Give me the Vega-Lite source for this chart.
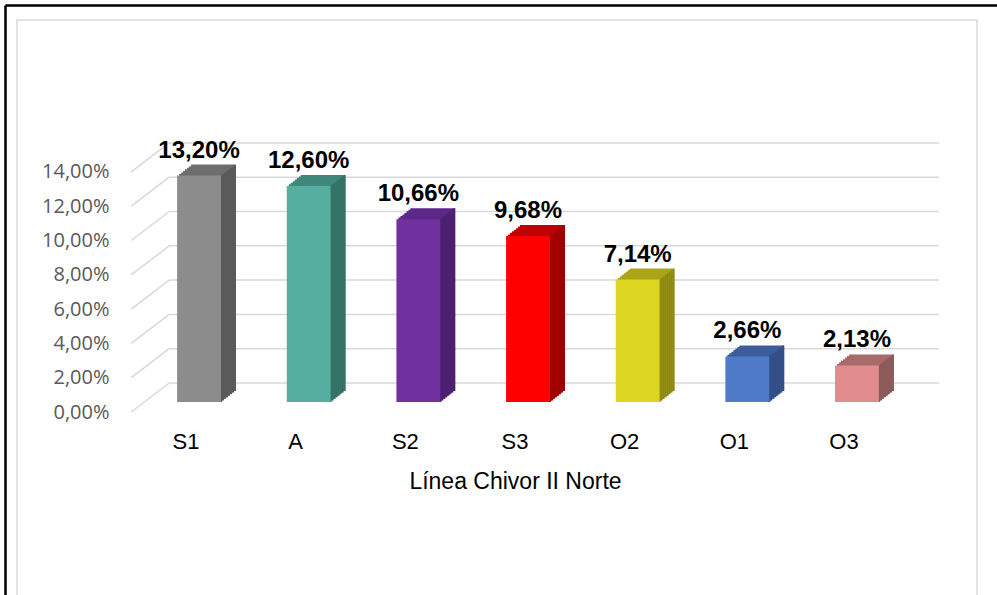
{
  "$schema": "https://vega.github.io/schema/vega-lite/v6.json",
  "width": 960,
  "height": 595,
  "autosize": {"type": "none"},
  "padding": {"left": 17, "top": 20, "right": 20, "bottom": 0},
  "background": "white",
  "config": {
    "locale": {"number": {"decimal": ",", "thousands": ".", "grouping": [3], "currency": ["", " €"]}},
    "view": {"stroke": "#d9d9d9", "strokeWidth": 1.5},
    "axis": {"grid": false}
  },
  "datasets": {
    "bars": [
      {"cat": "S1", "val": 0.132},
      {"cat": "A", "val": 0.126},
      {"cat": "S2", "val": 0.1066},
      {"cat": "S3", "val": 0.0968},
      {"cat": "O2", "val": 0.0714},
      {"cat": "O1", "val": 0.0266},
      {"cat": "O3", "val": 0.0213}
    ],
    "grid": [
      {"val": 0}, {"val": 0.02}, {"val": 0.04}, {"val": 0.06},
      {"val": 0.08}, {"val": 0.1}, {"val": 0.12}, {"val": 0.14}
    ]
  },
  "resolve": {"scale": {"x": "independent", "y": "independent"}, "axis": {"x": "independent", "y": "independent"}},
  "layer": [
    {
      "data": {"name": "grid"},
      "encoding": {
        "y": {"field": "val", "type": "quantitative",
          "scale": {"domain": [-0.118367, 0.228571], "nice": false, "zero": false},
          "axis": null}
      },
      "layer": [
        {
          "mark": {"type": "rule", "color": "#d9d9d9", "strokeWidth": 1.5, "xOffset": -16.8, "x2Offset": 95, "yOffset": -29},
          "encoding": {
            "x": {"datum": "S1", "axis": null,
              "scale": {"type": "band", "domain": ["S1", "A", "S2", "S3", "O2", "O1", "O3"], "range": [114.2, 881.8], "paddingInner": 0.6, "paddingOuter": 0.3}},
            "x2": {"datum": "O3"}
          }
        },
        {
          "mark": {"type": "rule", "color": "#d9d9d9", "strokeWidth": 1.5, "xOffset": -54.8, "x2Offset": -16.8, "y2Offset": -29},
          "encoding": {
            "x": {"datum": "S1", "axis": null,
              "scale": {"type": "band", "domain": ["S1", "A", "S2", "S3", "O2", "O1", "O3"], "range": [114.2, 881.8], "paddingInner": 0.6, "paddingOuter": 0.3}},
            "x2": {"datum": "S1"},
            "y2": {"field": "val"}
          }
        }
      ]
    },
    {
      "data": {"name": "bars"},
      "encoding": {
        "x": {
          "field": "cat", "type": "nominal",
          "scale": {"type": "band", "domain": ["S1", "A", "S2", "S3", "O2", "O1", "O3"], "range": [114.2, 881.8], "paddingInner": 0.6, "paddingOuter": 0.3},
          "axis": {
            "orient": "bottom", "offset": -186, "domain": false, "ticks": false, "tickSize": 0, "labelPadding": 2,
            "labelFont": "Liberation Sans", "labelFontSize": 22, "labelColor": "#000000", "labelAngle": 0,
            "title": "Línea Chivor II Norte", "titleFont": "Liberation Sans", "titleFontSize": 23,
            "titleFontWeight": "normal", "titleColor": "#000000", "titlePadding": 18, "grid": false
          }
        },
        "y": {
          "field": "val", "type": "quantitative",
          "scale": {"domain": [-0.118367, 0.228571], "nice": false, "zero": false},
          "axis": {
            "orient": "left", "offset": -92, "domain": false, "ticks": false, "tickSize": 0, "labelPadding": 0,
            "values": [0, 0.02, 0.04, 0.06, 0.08, 0.1, 0.12, 0.14], "format": ".2%",
            "labelFont": "Open Sans", "labelFontSize": 20, "labelColor": "#595959", "title": null, "grid": false
          }
        }
      },
      "resolve": {"scale": {"color": "independent"}},
      "layer": [
        {
          "encoding": {
            "y2": {"datum": 0},
            "color": {"field": "cat", "type": "nominal", "legend": null,
              "scale": {"domain": ["S1", "A", "S2", "S3", "O2", "O1", "O3"], "range": ["#6e6e6e", "#3f877b", "#5c2788", "#c00000", "#aaa518", "#3c5d9c", "#a86a6a"]}}
          },
          "layer": [
            {"mark": {"type": "bar", "xOffset": 15, "yOffset": -11.57, "y2Offset": -11.57}},
            {"mark": {"type": "bar", "xOffset": 17, "yOffset": -13.14, "y2Offset": -13.14}},
            {"mark": {"type": "bar", "xOffset": 19, "yOffset": -14.71, "y2Offset": -14.71}},
            {"mark": {"type": "bar", "xOffset": 21, "yOffset": -16.29, "y2Offset": -16.29}},
            {"mark": {"type": "bar", "xOffset": 23, "yOffset": -17.86, "y2Offset": -17.86}},
            {"mark": {"type": "bar", "xOffset": 25, "yOffset": -19.43, "y2Offset": -19.43}},
            {"mark": {"type": "bar", "xOffset": 27, "yOffset": -21, "y2Offset": -21}}
          ]
        },
        {
          "encoding": {
            "y2": {"datum": 0},
            "color": {"field": "cat", "type": "nominal", "legend": null,
              "scale": {"domain": ["S1", "A", "S2", "S3", "O2", "O1", "O3"], "range": ["#5a5a5a", "#357065", "#4b1f6e", "#a00000", "#8c8912", "#324e86", "#8c5a5a"]}}
          },
          "layer": [
            {"mark": {"type": "bar", "width": 2, "xOffset": 35, "yOffset": -10, "y2Offset": -10}},
            {"mark": {"type": "bar", "width": 2, "xOffset": 37, "yOffset": -11.57, "y2Offset": -11.57}},
            {"mark": {"type": "bar", "width": 2, "xOffset": 39, "yOffset": -13.14, "y2Offset": -13.14}},
            {"mark": {"type": "bar", "width": 2, "xOffset": 41, "yOffset": -14.71, "y2Offset": -14.71}},
            {"mark": {"type": "bar", "width": 2, "xOffset": 43, "yOffset": -16.29, "y2Offset": -16.29}},
            {"mark": {"type": "bar", "width": 2, "xOffset": 45, "yOffset": -17.86, "y2Offset": -17.86}},
            {"mark": {"type": "bar", "width": 2, "xOffset": 47, "yOffset": -19.43, "y2Offset": -19.43}},
            {"mark": {"type": "bar", "width": 2, "xOffset": 49, "yOffset": -21, "y2Offset": -21}}
          ]
        },
        {
          "mark": {"type": "bar", "xOffset": 13, "yOffset": -10, "y2Offset": -10},
          "encoding": {
            "y2": {"datum": 0},
            "color": {"field": "cat", "type": "nominal", "legend": null,
              "scale": {"domain": ["S1", "A", "S2", "S3", "O2", "O1", "O3"], "range": ["#8c8c8c", "#55ae9f", "#7030a0", "#ff0000", "#dcd620", "#4f7ac8", "#e08c8c"]}}
          }
        },
        {
          "mark": {"type": "text", "xOffset": 13, "yOffset": -28, "baseline": "alphabetic", "align": "center",
            "font": "Liberation Sans", "fontSize": 24, "fontWeight": "bold", "color": "#000000"},
          "encoding": {"text": {"field": "val", "type": "quantitative", "format": ".2%"}}
        }
      ]
    },
    {
      "data": {"name": "bars"},
      "mark": {"type": "point", "opacity": 0},
      "encoding": {
        "x": {"field": "cat", "type": "nominal",
          "scale": {"type": "point", "domain": ["S1", "A", "S2", "S3", "O2", "O1", "O3"], "range": [-12, 980], "padding": 0},
          "axis": {"orient": "top", "offset": 15, "domainColor": "#000000", "domainWidth": 2.5, "labels": false, "ticks": false, "title": null, "grid": false}},
        "y": {"field": "val", "type": "quantitative",
          "scale": {"domain": [-0.118367, 0.228571], "nice": false, "zero": false, "range": [600, -15]},
          "axis": {"orient": "left", "offset": 12, "domainColor": "#000000", "domainWidth": 2.5, "labels": false, "ticks": false, "title": null, "grid": false}}
      }
    }
  ]
}
